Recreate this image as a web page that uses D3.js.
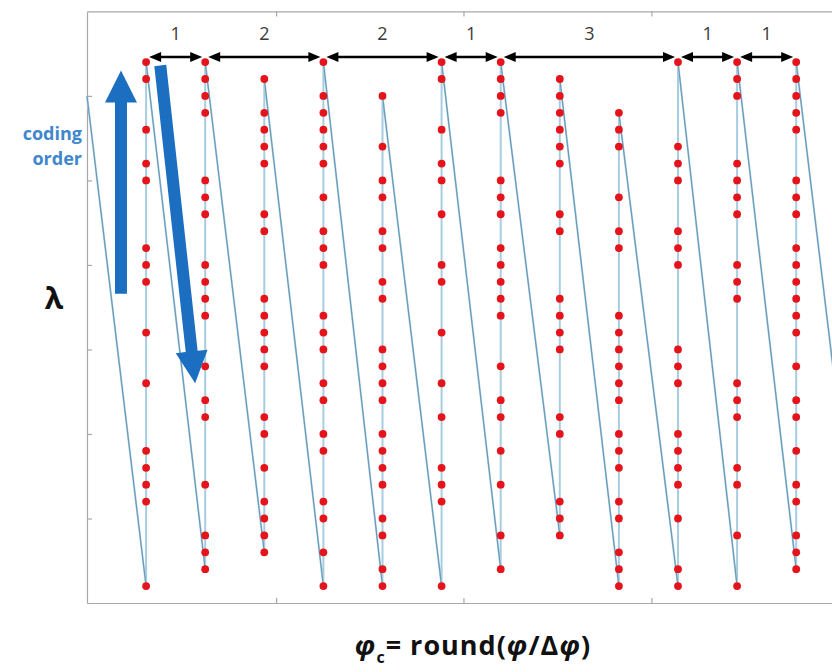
<!DOCTYPE html>
<html>
<head>
<meta charset="utf-8">
<script src="https://cdn.jsdelivr.net/npm/d3@7"></script>
<style>
  body { margin: 0; background: #fff; }
  svg { display: block; font-family: "Open Sans", "Liberation Sans", sans-serif; }
</style>
</head>
<body>
<div id="chart"></div>
<script>
// lambda rows (0 = lowest) that hold a coded sample, one list per phi column (1..12)
const columnRows = [
  [0, 5, 6, 7, 8, 12, 15, 18, 19, 20, 24, 25, 27, 30, 31],
  [1, 2, 3, 6, 10, 11, 13, 16, 17, 18, 19, 22, 23, 24, 28, 29, 30, 31],
  [2, 3, 4, 5, 7, 9, 10, 13, 14, 15, 16, 17, 21, 22, 25, 26, 27, 28, 30],
  [0, 2, 4, 5, 8, 9, 11, 12, 14, 15, 16, 19, 20, 21, 23, 25, 26, 27, 28, 29, 31],
  [0, 1, 3, 4, 6, 7, 8, 9, 11, 12, 13, 14, 17, 18, 20, 21, 23, 24, 26, 29],
  [0, 5, 6, 7, 10, 12, 15, 18, 19, 22, 24, 25, 27, 30, 31],
  [1, 3, 6, 8, 10, 11, 13, 16, 17, 18, 19, 20, 22, 23, 24, 28, 29, 30, 31],
  [3, 4, 5, 9, 10, 14, 15, 16, 17, 21, 22, 25, 26, 27, 28, 29, 30],
  [0, 1, 2, 4, 5, 7, 8, 9, 11, 12, 13, 14, 15, 16, 20, 21, 23, 26, 27, 28],
  [0, 1, 4, 6, 7, 8, 9, 12, 13, 14, 19, 20, 21, 24, 25, 26, 31],
  [0, 3, 6, 7, 10, 11, 12, 17, 18, 19, 22, 23, 24, 25, 29, 30, 31],
  [1, 2, 3, 5, 6, 8, 10, 11, 13, 15, 16, 17, 18, 19, 20, 22, 23, 24, 27, 28, 29, 30, 31]
];
// the scan path comes in from the column before and leaves to the column after
const prevColumnTop = 29;
const nextColumnBottom = 2;

// gaps between columns that reach the top row
const spanFrom = [1, 2, 4, 6, 7, 10, 11];
const spanTo = [2, 4, 6, 7, 10, 11, 12];
const spanLabels = ["1", "2", "2", "1", "3", "1", "1"];

const xTicks = [3.2, 6.37, 9.55];
const yTicks = [4, 9, 14, 19, 24, 29];

const width = 832, height = 672;

const svg = d3.select("#chart").append("svg")
    .attr("width", width)
    .attr("height", height);

const x = d3.scaleLinear().domain([0, 13]).range([87, 855.3]);
const y = d3.scaleLinear().domain([-1, 34]).range([603, 11.4]);

// frame with inward ticks
function styleAxis(g) {
    g.selectAll("path, line").attr("stroke", "#a8a8a8").attr("stroke-width", 1.2);
}
svg.append("g").attr("transform", `translate(0,${y(-1)})`)
    .call(d3.axisBottom(x).tickValues(xTicks).tickSizeInner(-5).tickSizeOuter(0).tickFormat(""))
    .call(styleAxis);
svg.append("g").attr("transform", `translate(0,${y(34)})`)
    .call(d3.axisTop(x).tickValues(xTicks).tickSizeInner(-5).tickSizeOuter(0).tickFormat(""))
    .call(styleAxis);
svg.append("g").attr("transform", `translate(${x(0)},0)`)
    .call(d3.axisLeft(y).tickValues(yTicks).tickSizeInner(-5).tickSizeOuter(0).tickFormat(""))
    .call(styleAxis);

// build scan order: each column bottom -> top, then jump to next column bottom
const pathPoints = [{col: 0, row: prevColumnTop}];
columnRows.forEach((rows, i) => {
    rows.slice().sort((a, b) => a - b).forEach(r => pathPoints.push({col: i + 1, row: r}));
});
pathPoints.push({col: columnRows.length + 1, row: nextColumnBottom});

const jumps = [];
for (let i = 1; i < pathPoints.length; i++) {
    if (pathPoints[i].col !== pathPoints[i - 1].col) jumps.push([pathPoints[i - 1], pathPoints[i]]);
}

const line = d3.line().x(d => x(d.col)).y(d => y(d.row));

svg.append("path")
    .datum(pathPoints)
    .attr("d", line)
    .attr("fill", "none")
    .attr("stroke", "#a8cde0")
    .attr("stroke-width", 2);

svg.selectAll("path.jump")
    .data(jumps)
    .enter()
    .append("path")
    .attr("class", "jump")
    .attr("d", line)
    .attr("fill", "none")
    .attr("stroke", "#6596b3")
    .attr("stroke-width", 1);

const points = pathPoints.filter(d => d.col >= 1 && d.col <= columnRows.length);
svg.selectAll("circle.point")
    .data(points)
    .enter()
    .append("circle")
    .attr("class", "point")
    .attr("cx", d => x(d.col))
    .attr("cy", d => y(d.row))
    .attr("r", 3.9)
    .attr("fill", "#e5141b");

// black double arrows over the top row
const arrowY = y(31.3);
function triangle(tipX, dir) {
    const len = 12, half = 5;
    return `M${tipX},${arrowY} L${tipX - dir * len},${arrowY - half} L${tipX - dir * len},${arrowY + half} Z`;
}
spanFrom.forEach((a, i) => {
    const x1 = x(a) + 3, x2 = x(spanTo[i]) - 3;
    svg.append("line")
        .attr("x1", x1 + 10).attr("x2", x2 - 10)
        .attr("y1", arrowY).attr("y2", arrowY)
        .attr("stroke", "#000").attr("stroke-width", 2.6);
    svg.append("path").attr("d", triangle(x1, -1)).attr("fill", "#000");
    svg.append("path").attr("d", triangle(x2, 1)).attr("fill", "#000");
    svg.append("text")
        .attr("x", (x1 + x2) / 2)
        .attr("y", arrowY - 17)
        .attr("text-anchor", "middle")
        .style("font-size", "18px")
        .style("fill", "#3a3a3a")
        .text(spanLabels[i]);
});

// coding order arrows (in column / row units)
const blueArrows = [
    {from: [0.575, 17.3], to: [0.575, 30.5]},
    {from: [1.24, 30.8], to: [1.83, 12.0]}
];
function blockArrow(p, q, w, hw, hl) {
    const dx = q[0] - p[0], dy = q[1] - p[1];
    const L = Math.hypot(dx, dy);
    const ux = dx / L, uy = dy / L, nx = -uy, ny = ux;
    const bx = q[0] - ux * hl, by = q[1] - uy * hl;
    const pts = [
        [p[0] + nx * w / 2, p[1] + ny * w / 2],
        [bx + nx * w / 2, by + ny * w / 2],
        [bx + nx * hw / 2, by + ny * hw / 2],
        q,
        [bx - nx * hw / 2, by - ny * hw / 2],
        [bx - nx * w / 2, by - ny * w / 2],
        [p[0] - nx * w / 2, p[1] - ny * w / 2]
    ];
    return "M" + pts.map(d => d.join(",")).join("L") + "Z";
}
blueArrows.forEach(a => {
    svg.append("path")
        .attr("d", blockArrow([x(a.from[0]), y(a.from[1])], [x(a.to[0]), y(a.to[1])], 12, 32, 32))
        .attr("fill", "#1c6fc0");
});

svg.append("text")
    .attr("x", 82).attr("y", 140)
    .attr("text-anchor", "end")
    .style("font-size", "18px").style("font-weight", "bold").style("fill", "#3f87cd")
    .text("coding");
svg.append("text")
    .attr("x", 82).attr("y", 165)
    .attr("text-anchor", "end")
    .style("font-size", "18px").style("font-weight", "bold").style("fill", "#3f87cd")
    .text("order");

// axis titles
svg.append("text")
    .attr("x", 54).attr("y", 309)
    .attr("text-anchor", "middle")
    .style("font-size", "30px").style("font-weight", "bold").style("fill", "#111")
    .text("λ");

const xTitle = svg.append("text")
    .attr("x", 473).attr("y", 655)
    .attr("text-anchor", "middle")
    .style("font-size", "27px").style("font-weight", "bold").style("fill", "#111")
    .style("letter-spacing", "1px");
xTitle.append("tspan").style("font-style", "italic").text("φ");
xTitle.append("tspan").attr("dy", 8).style("font-size", "16px").text("c");
xTitle.append("tspan").attr("dy", -8).text("= round(");
xTitle.append("tspan").style("font-style", "italic").text("φ");
xTitle.append("tspan").text("/Δ");
xTitle.append("tspan").style("font-style", "italic").text("φ");
xTitle.append("tspan").text(")");
</script>
</body>
</html>
